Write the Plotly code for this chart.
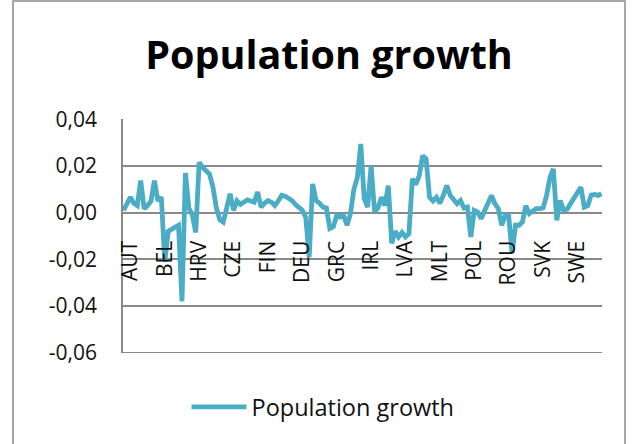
import plotly.graph_objects as go

# Category labels shown on the axis (every 10th observation, starting at observation 2)
tick_labels = ["AUT", "BEL", "HRV", "CZE", "FIN", "DEU", "GRC",
               "IRL", "LVA", "MLT", "POL", "ROU", "SVK", "SWE"]
label_step = 10
label_offset = 2

# Value axis ticks
y_ticks = [-0.06, -0.04, -0.02, 0.0, 0.02, 0.04]
y_tick_labels = ["-0,06", "-0,04", "-0,02", "0,00", "0,02", "0,04"]

growth = [
    0.001, 0.004, 0.0066, 0.004, 0.003, 0.0137, 0.0017, 0.003, 0.005, 0.0137,
    0.005, 0.0066, -0.021, -0.008, -0.007, -0.006, -0.0054, -0.038, 0.017, 0.002,
    -0.001, -0.0085, 0.0215, 0.0194, 0.018, 0.0165, 0.011, 0.002, -0.003, -0.004,
    0.002, 0.0081, 0.001, 0.005, 0.0035, 0.0045, 0.0055, 0.005, 0.0045, 0.0088,
    0.0024, 0.004, 0.0052, 0.0045, 0.003, 0.005, 0.0074, 0.007, 0.006, 0.0052,
    0.0035, 0.0024, 0.001, -0.002, -0.019, 0.0123, 0.0052, 0.004, 0.0024, 0.002,
    -0.0068, -0.0061, -0.0012, -0.0019, -0.0012, -0.0054, -0.0004, 0.010, 0.015, 0.0294,
    0.006, 0.0024, 0.0201, 0.0005, 0.002, 0.0066, 0.003, 0.0116, -0.0132, -0.008,
    -0.0104, -0.0085, -0.0104, -0.009, 0.0145, 0.012, 0.0159, 0.0244, 0.023, 0.0066,
    0.005, 0.0066, 0.004, 0.0074, 0.0116, 0.0074, 0.0052, 0.0038, 0.0052, 0.002,
    0.0024, -0.0104, 0.001, 0.0003, -0.0026, 0.001, 0.004, 0.0074, 0.0038, 0.0017,
    -0.0054, -0.0012, -0.0012, -0.0174, -0.0054, -0.0054, -0.004, 0.003, -0.0004, 0.001,
    0.0017, 0.0017, 0.002, 0.007, 0.015, 0.0187, -0.0033, 0.0052, 0.001, 0.0015,
    0.004, 0.006, 0.009, 0.0109, 0.0024, 0.003, 0.0075, 0.0078, 0.0074, 0.0081,
]

x = list(range(len(growth)))
tickvals = [label_offset + i * label_step for i in range(len(tick_labels))]

FONT = "Open Sans"
GRID = "#898989"

fig = go.Figure()
fig.add_trace(go.Scatter(
    x=x, y=growth, mode="lines", name="Population growth",
    line=dict(color="#4BACC6", width=4.8),
))

fig.update_layout(
    width=632, height=444,
    margin=dict(l=123, r=30, t=119, b=91, autoexpand=False),
    paper_bgcolor="white", plot_bgcolor="white",
    font=dict(family=FONT, color="#111111", size=21),
    title=dict(text="<b>Population growth</b>",
               font=dict(family=FONT, size=39.5, color="black"),
               x=329 / 632, xref="container", xanchor="center",
               y=1 - 55 / 444, yref="container", yanchor="middle"),
    showlegend=True,
    legend=dict(orientation="h", x=0.5 + 7 / 632, xanchor="center", xref="container",
                y=1 - 407 / 444, yref="container", yanchor="middle",
                itemwidth=55,
                font=dict(family=FONT, size=23.5, color="#111111"),
                bgcolor="rgba(0,0,0,0)"),
    xaxis=dict(range=[-0.15, len(growth) - 0.85],
               tickmode="array", tickvals=tickvals, ticktext=tick_labels,
               tickangle=-90, showgrid=False, zeroline=False, showline=False,
               anchor="free", position=0.6, ticks="",
               ticklabelstandoff=23,
               tickfont=dict(family=FONT, size=21, color="#111111")),
    yaxis=dict(range=[-0.0601, 0.0401],
               tickmode="array", tickvals=y_ticks, ticktext=y_tick_labels,
               showgrid=True, gridcolor=GRID, gridwidth=1.5,
               zeroline=False, showline=True, linecolor=GRID, linewidth=1.5,
               ticks="", ticklabelstandoff=20,
               tickfont=dict(family=FONT, size=21, color="#111111")),
    shapes=[
        dict(type="rect", xref="paper", yref="paper",
             x0=(13 - 123) / 479, x1=(625 - 123) / 479,
             y0=(353 - 470) / 234, y1=(353 - 1) / 234,
             line=dict(color="#8a8a8a", width=1.5), layer="below"),
        # bottom gridline of the value axis (at its minimum)
        dict(type="line", xref="paper", yref="y",
             x0=0, x1=1, y0=y_ticks[0], y1=y_ticks[0],
             line=dict(color=GRID, width=1.5), layer="below"),
    ],
)

fig.write_html("out.html")
